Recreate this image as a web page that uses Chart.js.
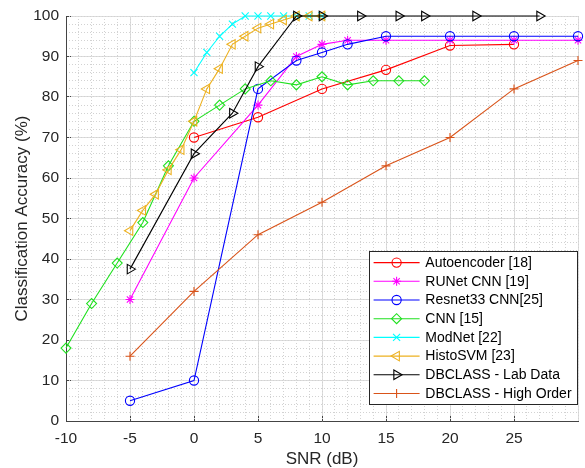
<!DOCTYPE html>
<html>
<head>
<meta charset="utf-8">
<script src="https://cdn.jsdelivr.net/npm/chart.js@4/dist/chart.umd.min.js"></script>
<style>
  html, body { margin: 0; padding: 0; background: #ffffff; }
  #wrap { width: 585px; height: 468px; }
</style>
</head>
<body>
<div id="wrap"><canvas id="c" width="585" height="468"></canvas></div>
<script>
// SNR (dB) and classification accuracy (%) for each method
const snrAutoencoder = [0, 5, 10, 15, 20, 25];
const accAutoencoder = [70, 75, 82, 86.7, 92.7, 93];

const snrRUNet = [-5, 0, 5, 8, 10, 12, 15, 20, 25, 30];
const accRUNet = [30, 60, 78, 90, 93, 94, 94, 94, 94, 94];

const snrResnet33 = [-5, 0, 5, 8, 10, 12, 15, 20, 25, 30];
const accResnet33 = [5, 10, 82, 89, 91, 93, 95, 95, 95, 95];

const snrCNN = [-10, -8, -6, -4, -2, 0, 2, 4, 6, 8, 10, 12, 14, 16, 18];
const accCNN = [18, 29, 39, 49, 63, 74, 78, 82, 84, 83, 85, 83, 84, 84, 84];

const snrModNet = [0, 1, 2, 3, 4, 5, 6, 7, 8, 9, 10];
const accModNet = [86, 91, 95, 98, 100, 100, 100, 100, 100, 100, 100];

const snrHistoSVM = [-5, -4, -3, -2, -1, 0, 1, 2, 3, 4, 5, 6, 7, 8, 9, 10];
const accHistoSVM = [47, 52, 56, 62, 67, 74, 82, 87, 93, 95, 97, 98, 99, 100, 100, 100];

const snrLab = [-5, 0, 3, 5, 8, 10, 13, 16, 18, 22, 27];
const accLab = [37.5, 66, 76, 87.5, 100, 100, 100, 100, 100, 100, 100];

const snrHighOrder = [-5, 0, 5, 10, 15, 20, 25, 30];
const accHighOrder = [16, 32, 46, 54, 63, 70, 82, 89];

const seriesLabels = [
  'Autoencoder [18]',
  'RUNet CNN [19]',
  'Resnet33 CNN[25]',
  'CNN [15]',
  'ModNet [22]',
  'HistoSVM [23]',
  'DBCLASS - Lab Data',
  'DBCLASS - High Order'
];

const xMin = -10, xMax = 30, xStep = 5;
const yMin = 0, yMax = 100, yStep = 10;

const FONT = '"Liberation Sans", Arial, Helvetica, sans-serif';
const TEXT = '#262626';

function pts(xs, ys) {
  return xs.map((x, i) => ({ x: x, y: ys[i] }));
}

function series(i, xs, ys, color, style, radius, rotation) {
  return {
    label: seriesLabels[i],
    data: pts(xs, ys),
    borderColor: color,
    backgroundColor: 'rgba(0,0,0,0)',
    borderWidth: 1.1,
    pointStyle: style,
    pointRadius: radius,
    pointHoverRadius: radius,
    pointRotation: rotation || 0,
    pointBorderColor: color,
    pointBackgroundColor: 'rgba(0,0,0,0)',
    pointBorderWidth: 1.1,
    tension: 0,
    fill: false,
    clip: false,
    order: seriesLabels.length - i
  };
}

const datasets = [
  series(0, snrAutoencoder, accAutoencoder, '#ff0000', 'circle', 4.6),
  series(1, snrRUNet, accRUNet, '#ff00ff', 'star', 4.5),
  series(2, snrResnet33, accResnet33, '#0000ff', 'circle', 4.6),
  series(3, snrCNN, accCNN, '#1fe01f', 'rectRot', 5),
  series(4, snrModNet, accModNet, '#00ffff', 'crossRot', 5),
  series(5, snrHistoSVM, accHistoSVM, '#EDB120', 'triangle', 5.5, -90),
  series(6, snrLab, accLab, '#000000', 'triangle', 5.5, 90),
  series(7, snrHighOrder, accHighOrder, '#D95319', 'cross', 4.5)
];

// Legend box drawn inside the plot area, lower right
const boxLegend = {
  id: 'boxLegend',
  afterDatasetsDraw(chart) {
    const { ctx, chartArea } = chart;
    const ds = chart.data.datasets;
    ctx.save();
    ctx.font = '14px ' + FONT;
    const textW = Math.max(...ds.map(d => ctx.measureText(d.label).width));
    const rowH = 18.7, sample = 46, gap = 5.7, padL = 4.6, padR = 5;
    const w = Math.round(padL + sample + gap + textW + padR);
    const h = Math.round(11.6 + rowH * (ds.length - 1) + 10);
    const x0 = Math.round(chartArea.right - 1.5 - w);
    const y0 = Math.round(chartArea.bottom - 17.5 - h);
    ctx.fillStyle = '#ffffff';
    ctx.fillRect(x0, y0, w, h);
    ctx.strokeStyle = '#262626';
    ctx.lineWidth = 1;
    ctx.strokeRect(x0 + 0.5, y0 + 0.5, w, h);
    ds.forEach((d, i) => {
      const cy = y0 + 11.6 + i * rowH;
      const lx = x0 + padL;
      ctx.strokeStyle = d.borderColor;
      ctx.lineWidth = d.borderWidth;
      ctx.beginPath();
      ctx.moveTo(lx, cy);
      ctx.lineTo(lx + sample, cy);
      ctx.stroke();
      ctx.fillStyle = 'rgba(0,0,0,0)';
      Chart.helpers.drawPoint(ctx, {
        pointStyle: d.pointStyle,
        radius: d.pointRadius,
        rotation: d.pointRotation,
        borderWidth: d.pointBorderWidth
      }, lx + sample / 2, cy);
      ctx.fillStyle = '#000000';
      ctx.textAlign = 'left';
      ctx.textBaseline = 'middle';
      ctx.fillText(d.label, lx + sample + gap, cy + 0.5);
    });
    ctx.restore();
  }
};

Chart.defaults.font.family = FONT;
Chart.defaults.color = TEXT;

new Chart(document.getElementById('c'), {
  type: 'line',
  data: { datasets: datasets },
  plugins: [boxLegend],
  options: {
    responsive: false,
    animation: false,
    layout: { padding: { left: 0, right: 7, top: 16, bottom: 0 } },
    plugins: {
      legend: { display: false },
      tooltip: { enabled: false }
    },
    scales: {
      x: {
        type: 'linear',
        position: 'bottom',
        min: xMin, max: xMax,
        afterFit: s => { s.height = 47; s.paddingLeft = 0; s.paddingRight = 0; },
        ticks: {
          stepSize: xStep,
          padding: 13,
          maxRotation: 0,
          font: { size: 15.5 },
          color: TEXT,
          callback: v => (v === xMax ? '' : String(v))
        },
        grid: {
          color: '#dcdcdc',
          lineWidth: 1,
          drawTicks: true,
          tickLength: -5,
          tickColor: c => (c.tick && c.tick.value === xMax ? 'rgba(0,0,0,0)' : '#444444')
        },
        border: { display: true, color: '#444444', width: 1 },
        title: {
          display: true,
          text: 'SNR (dB)',
          font: { size: 17, lineHeight: 1 },
          color: TEXT,
          padding: { top: 0, bottom: 0 }
        }
      },
      xMinor: {
        type: 'linear',
        position: 'bottom',
        min: xMin, max: xMax,
        z: -1,
        afterFit: s => { s.height = 0; s.paddingLeft = 0; s.paddingRight = 0; },
        ticks: { display: false, stepSize: 1 },
        grid: { color: '#d2d2d2', lineWidth: 1, drawTicks: false },
        border: { display: false, dash: [1, 2] }
      },
      y: {
        type: 'linear',
        position: 'left',
        min: yMin, max: yMax,
        afterFit: s => { s.width = 66; s.paddingTop = 0; s.paddingBottom = 0; },
        ticks: {
          stepSize: yStep,
          padding: 12,
          font: { size: 15.5 },
          color: TEXT
        },
        grid: {
          color: '#dcdcdc',
          lineWidth: 1,
          drawTicks: true,
          tickLength: -5,
          tickColor: '#444444'
        },
        border: { display: true, color: '#444444', width: 1 },
        title: {
          display: true,
          text: 'Classification Accuracy (%)',
          font: { size: 17 },
          color: TEXT,
          padding: { top: 12, bottom: 0 }
        }
      },
      yMinor: {
        type: 'linear',
        position: 'left',
        min: yMin, max: yMax,
        z: -1,
        afterFit: s => { s.width = 0; s.paddingTop = 0; s.paddingBottom = 0; },
        ticks: { display: false, stepSize: 2 },
        grid: { color: '#d2d2d2', lineWidth: 1, drawTicks: false },
        border: { display: false, dash: [1, 2] }
      }
    }
  }
});
</script>
</body>
</html>
